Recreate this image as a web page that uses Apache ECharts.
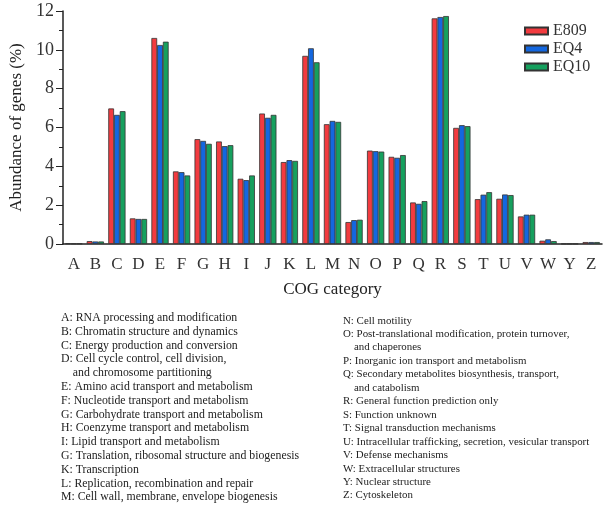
<!DOCTYPE html>
<html>
<head>
<meta charset="utf-8">
<script src="https://cdn.jsdelivr.net/npm/echarts@6/dist/echarts.min.js"></script>
<style>html,body{margin:0;padding:0;background:#fff;}#c{width:606px;height:513px;}</style>
</head>
<body>
<div id="c"></div>
<script>
var categories = ['A','B','C','D','E','F','G','H','I','J','K','L','M','N','O','P','Q','R','S','T','U','V','W','Y','Z'];
var seriesNames = ['E809','EQ4','EQ10'];
var e809 = [0.03,0.15,6.98,1.32,10.61,3.74,5.40,5.28,3.36,6.72,4.22,9.69,6.17,1.13,4.81,4.49,2.14,11.62,5.98,2.31,2.33,1.42,0.17,0.01,0.10];
var eq4  = [0.02,0.13,6.65,1.29,10.25,3.70,5.31,5.04,3.29,6.50,4.32,10.08,6.34,1.23,4.78,4.44,2.07,11.69,6.12,2.54,2.55,1.51,0.24,0.01,0.10];
var eq10 = [0.02,0.13,6.84,1.29,10.42,3.53,5.16,5.09,3.53,6.65,4.28,9.36,6.29,1.25,4.76,4.58,2.21,11.74,6.07,2.67,2.52,1.51,0.15,0.01,0.10];
var yTicks = [0,2,4,6,8,10,12];
var leftNotes = [
 'A: RNA processing and modification',
 'B: Chromatin structure and dynamics',
 'C: Energy production and conversion',
 'D: Cell cycle control, cell division,',
 '    and chromosome partitioning',
 'E: Amino acid transport and metabolism',
 'F: Nucleotide transport and metabolism',
 'G: Carbohydrate transport and metabolism',
 'H: Coenzyme transport and metabolism',
 'I: Lipid transport and metabolism',
 'G: Translation, ribosomal structure and biogenesis',
 'K: Transcription',
 'L: Replication, recombination and repair',
 'M: Cell wall, membrane, envelope biogenesis'
];
var rightNotes = [
 'N: Cell motility',
 'O: Post-translational modification, protein turnover,',
 '    and chaperones',
 'P: Inorganic ion transport and metabolism',
 'Q: Secondary metabolites biosynthesis, transport,',
 '    and catabolism',
 'R: General function prediction only',
 'S: Function unknown',
 'T: Signal transduction mechanisms',
 'U: Intracellular trafficking, secretion, vesicular transport',
 'V: Defense mechanisms',
 'W: Extracellular structures',
 'Y: Nuclear structure',
 'Z: Cytoskeleton'
];
var colors = ['#f23b3f','#1467df','#16a05e'];
var font = 'Liberation Serif, Times New Roman, serif';
var dataSets = [e809, eq4, eq10];
var chart = echarts.init(document.getElementById('c'));
chart.setOption({
  animation: false,
  textStyle: {fontFamily: font},
  grid: {left: 61, right: 4, top: 11, bottom: 269, containLabel: false},
  legend: {
    left: 519, top: 18, orient: 'vertical', itemWidth: 23, itemHeight: 7, itemGap: 2,
    icon: 'rect',
    textStyle: {fontFamily: font, fontSize: 16, color: '#333'},
    data: seriesNames
  },
  xAxis: {
    type: 'category', data: categories,
    axisLine: {lineStyle: {color: '#222', width: 1.5}},
    axisTick: {show: false},
    axisLabel: {fontFamily: font, fontSize: 17, color: '#333', margin: 12, interval: 0},
    name: 'COG category', nameLocation: 'middle', nameGap: 37,
    nameTextStyle: {fontFamily: font, fontSize: 17, color: '#222'}
  },
  yAxis: {
    type: 'value', min: 0, max: 12, interval: 2,
    splitLine: {show: false},
    axisLine: {show: true, lineStyle: {color: '#222', width: 1.5}},
    axisTick: {show: true, inside: false, length: 7, lineStyle: {color: '#222'}},
    minorTick: {show: true, splitNumber: 2, length: 4, lineStyle: {color: '#222'}},
    axisLabel: {fontFamily: font, fontSize: 18, color: '#333', margin: 9,
      formatter: function (v) { return yTicks.indexOf(v) >= 0 ? String(v) : ''; }},
    name: 'Abundance of genes (%)', nameLocation: 'middle', nameGap: 38,
    nameTextStyle: {fontFamily: font, fontSize: 17, color: '#222'}
  },
  series: seriesNames.map(function (n, i) {
    return {
      name: n, type: 'bar', data: dataSets[i], barGap: '0%', barCategoryGap: '20%',
      itemStyle: {color: colors[i], borderColor: '#333', borderWidth: 0.8}
    };
  }),
  graphic: [
    {type: 'text', left: 61, top: 311, style: {text: leftNotes.join('\n'), font: '11.8px ' + font, lineHeight: 13.8, fill: '#222'}},
    {type: 'text', left: 343, top: 314, style: {text: rightNotes.join('\n'), font: '10.9px ' + font, lineHeight: 13.45, fill: '#222'}}
  ]
});
</script>
</body>
</html>
